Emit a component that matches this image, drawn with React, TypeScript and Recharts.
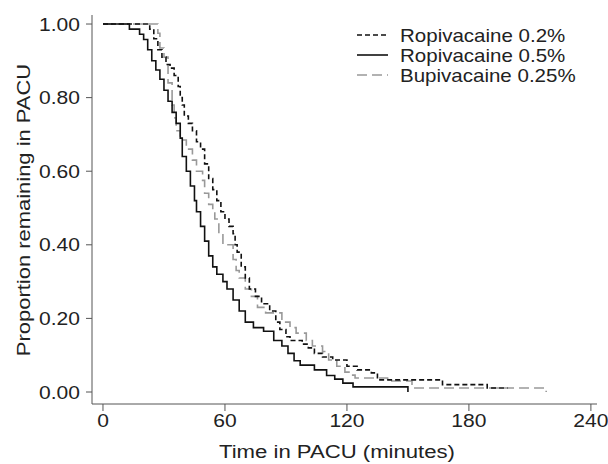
import { LineChart, Line, XAxis, YAxis } from "recharts"

type Pt = { t: number; p: number }

// Kaplan-Meier steps (time in minutes, proportion remaining)
const rop02: Pt[] = [
  { t: 0, p: 1.0 }, { t: 23, p: 0.986 }, { t: 25, p: 0.96 }, { t: 27, p: 0.93 },
  { t: 29, p: 0.91 }, { t: 31, p: 0.89 }, { t: 33, p: 0.88 }, { t: 35, p: 0.86 },
  { t: 37, p: 0.83 }, { t: 38, p: 0.8 }, { t: 39, p: 0.78 }, { t: 40, p: 0.75 },
  { t: 42, p: 0.73 }, { t: 44, p: 0.71 }, { t: 46, p: 0.68 }, { t: 48, p: 0.66 },
  { t: 50, p: 0.62 }, { t: 52, p: 0.58 }, { t: 54, p: 0.55 }, { t: 56, p: 0.52 },
  { t: 58, p: 0.49 }, { t: 60, p: 0.47 }, { t: 62, p: 0.45 }, { t: 64, p: 0.43 },
  { t: 65, p: 0.4 }, { t: 66, p: 0.38 }, { t: 68, p: 0.34 }, { t: 70, p: 0.31 },
  { t: 72, p: 0.28 }, { t: 75, p: 0.26 }, { t: 78, p: 0.24 }, { t: 82, p: 0.22 },
  { t: 85, p: 0.19 }, { t: 87, p: 0.17 }, { t: 90, p: 0.15 }, { t: 92, p: 0.14 },
  { t: 98, p: 0.13 }, { t: 101, p: 0.12 }, { t: 104, p: 0.105 }, { t: 108, p: 0.095 },
  { t: 113, p: 0.087 }, { t: 120, p: 0.07 }, { t: 125, p: 0.06 }, { t: 132, p: 0.052 },
  { t: 135, p: 0.033 }, { t: 167, p: 0.02 }, { t: 189, p: 0.011 }, { t: 199, p: 0.011 },
]

const rop05: Pt[] = [
  { t: 0, p: 1.0 }, { t: 13, p: 0.986 }, { t: 18, p: 0.972 }, { t: 20, p: 0.958 },
  { t: 22, p: 0.93 }, { t: 24, p: 0.9 }, { t: 26, p: 0.875 }, { t: 28, p: 0.85 },
  { t: 30, p: 0.82 }, { t: 32, p: 0.79 }, { t: 34, p: 0.76 }, { t: 36, p: 0.73 },
  { t: 38, p: 0.69 }, { t: 39, p: 0.64 }, { t: 41, p: 0.6 }, { t: 43, p: 0.56 },
  { t: 45, p: 0.52 }, { t: 46, p: 0.49 }, { t: 48, p: 0.45 }, { t: 50, p: 0.41 },
  { t: 52, p: 0.37 }, { t: 54, p: 0.34 }, { t: 56, p: 0.32 }, { t: 59, p: 0.3 },
  { t: 61, p: 0.28 }, { t: 64, p: 0.25 }, { t: 67, p: 0.22 }, { t: 70, p: 0.19 },
  { t: 74, p: 0.175 }, { t: 79, p: 0.165 }, { t: 84, p: 0.14 }, { t: 88, p: 0.125 },
  { t: 91, p: 0.105 }, { t: 94, p: 0.085 }, { t: 97, p: 0.073 }, { t: 104, p: 0.06 },
  { t: 110, p: 0.045 }, { t: 114, p: 0.035 }, { t: 118, p: 0.024 }, { t: 123, p: 0.014 },
  { t: 150, p: 0 },
]

const bup025: Pt[] = [
  { t: 0, p: 1.0 }, { t: 27, p: 0.975 }, { t: 28, p: 0.935 }, { t: 30, p: 0.91 },
  { t: 32, p: 0.84 }, { t: 34, p: 0.78 }, { t: 35, p: 0.745 }, { t: 36, p: 0.71 },
  { t: 38, p: 0.685 }, { t: 41, p: 0.66 }, { t: 44, p: 0.63 }, { t: 46, p: 0.6 },
  { t: 49, p: 0.575 }, { t: 50, p: 0.54 }, { t: 52, p: 0.51 }, { t: 54, p: 0.49 },
  { t: 55, p: 0.47 }, { t: 57, p: 0.43 }, { t: 59, p: 0.4 }, { t: 64, p: 0.36 },
  { t: 65.5, p: 0.33 }, { t: 67, p: 0.31 }, { t: 70, p: 0.28 }, { t: 73, p: 0.26 },
  { t: 76, p: 0.23 }, { t: 80, p: 0.215 }, { t: 88, p: 0.19 }, { t: 92, p: 0.175 },
  { t: 95, p: 0.16 }, { t: 100, p: 0.14 }, { t: 103, p: 0.125 }, { t: 108, p: 0.11 },
  { t: 111, p: 0.087 }, { t: 115, p: 0.07 }, { t: 119, p: 0.054 }, { t: 121, p: 0.046 },
  { t: 124, p: 0.038 }, { t: 140, p: 0.03 }, { t: 152, p: 0.011 }, { t: 218, p: 0 },
]

const xTicks = [0, 60, 120, 180, 240]
const yTicks = [0, 0.2, 0.4, 0.6, 0.8, 1.0]

const seriesInfo = [
  { name: "Ropivacaine 0.2%", color: "#111", dash: "5 3" },
  { name: "Ropivacaine 0.5%", color: "#111", dash: "" },
  { name: "Bupivacaine 0.25%", color: "#999", dash: "10 5" },
]

const FONT = "'Liberation Sans', Arial, sans-serif"
const AXIS = "#555"
const INK = "#222"

// text is drawn a bit wider than the font to match the original's lettering
const XTick = ({ x, y, payload }: any) => (
  <text
    transform={`translate(${x},${y + 14}) scale(1.17,1)`}
    textAnchor="middle"
    fontSize={18}
    fill={INK}
    fontFamily={FONT}
  >
    {payload.value}
  </text>
)

const YTick = ({ x, y, payload }: any) => (
  <text
    transform={`translate(${x - 4},${y + 6.5}) scale(1.17,1)`}
    textAnchor="end"
    fontSize={18}
    fill={INK}
    fontFamily={FONT}
  >
    {Number(payload.value).toFixed(2)}
  </text>
)

const XTitle = () => (
  <text
    transform="translate(337,458) scale(1.23,1)"
    textAnchor="middle"
    fontSize={18}
    fill={INK}
    fontFamily={FONT}
  >
    Time in PACU (minutes)
  </text>
)

const YTitle = () => (
  <text
    transform="translate(30,210) rotate(-90) scale(1.22,1)"
    textAnchor="middle"
    fontSize={18}
    fill={INK}
    fontFamily={FONT}
  >
    Proportion remaining in PACU
  </text>
)

const LegendBox = () => (
  <svg width={250} height={70} style={{ position: "absolute", left: 355, top: 25 }}>
    {seriesInfo.map((s, i) => (
      <g key={s.name}>
        <line
          x1={2}
          x2={33}
          y1={10 + i * 20}
          y2={10 + i * 20}
          stroke={s.color}
          strokeWidth={1.6}
          strokeDasharray={s.dash}
        />
        <text
          transform={`translate(45,${16.5 + i * 20}) scale(1.14,1)`}
          fontSize={18}
          fill={INK}
          fontFamily={FONT}
        >
          {s.name}
        </text>
      </g>
    ))}
  </svg>
)

export default function App() {
  return (
    <div style={{ position: "absolute", left: 0, top: 0, width: 608, height: 464, fontFamily: FONT }}>
      <LineChart width={608} height={464} margin={{ top: 15, right: 11, left: 0, bottom: 0 }}>
        <XAxis
          type="number"
          dataKey="t"
          domain={[-5.4, 243]}
          ticks={xTicks}
          allowDataOverflow
          height={60}
          stroke={AXIS}
          tickSize={7}
          tick={<XTick />}
          label={<XTitle />}
        />
        <YAxis
          type="number"
          dataKey="p"
          domain={[-0.0326, 1.0245]}
          ticks={yTicks}
          allowDataOverflow
          width={92}
          stroke={AXIS}
          tickSize={6}
          tick={<YTick />}
          label={<YTitle />}
        />
        <Line data={bup025} dataKey="p" type="stepAfter" stroke="#999" strokeWidth={1.6} strokeDasharray="10 5" dot={false} isAnimationActive={false} name={seriesInfo[2].name} />
        <Line data={rop02} dataKey="p" type="stepAfter" stroke="#111" strokeWidth={1.6} strokeDasharray="5 3" dot={false} isAnimationActive={false} name={seriesInfo[0].name} />
        <Line data={rop05} dataKey="p" type="stepAfter" stroke="#111" strokeWidth={1.6} dot={false} isAnimationActive={false} name={seriesInfo[1].name} />
      </LineChart>
      <LegendBox />
    </div>
  )
}
